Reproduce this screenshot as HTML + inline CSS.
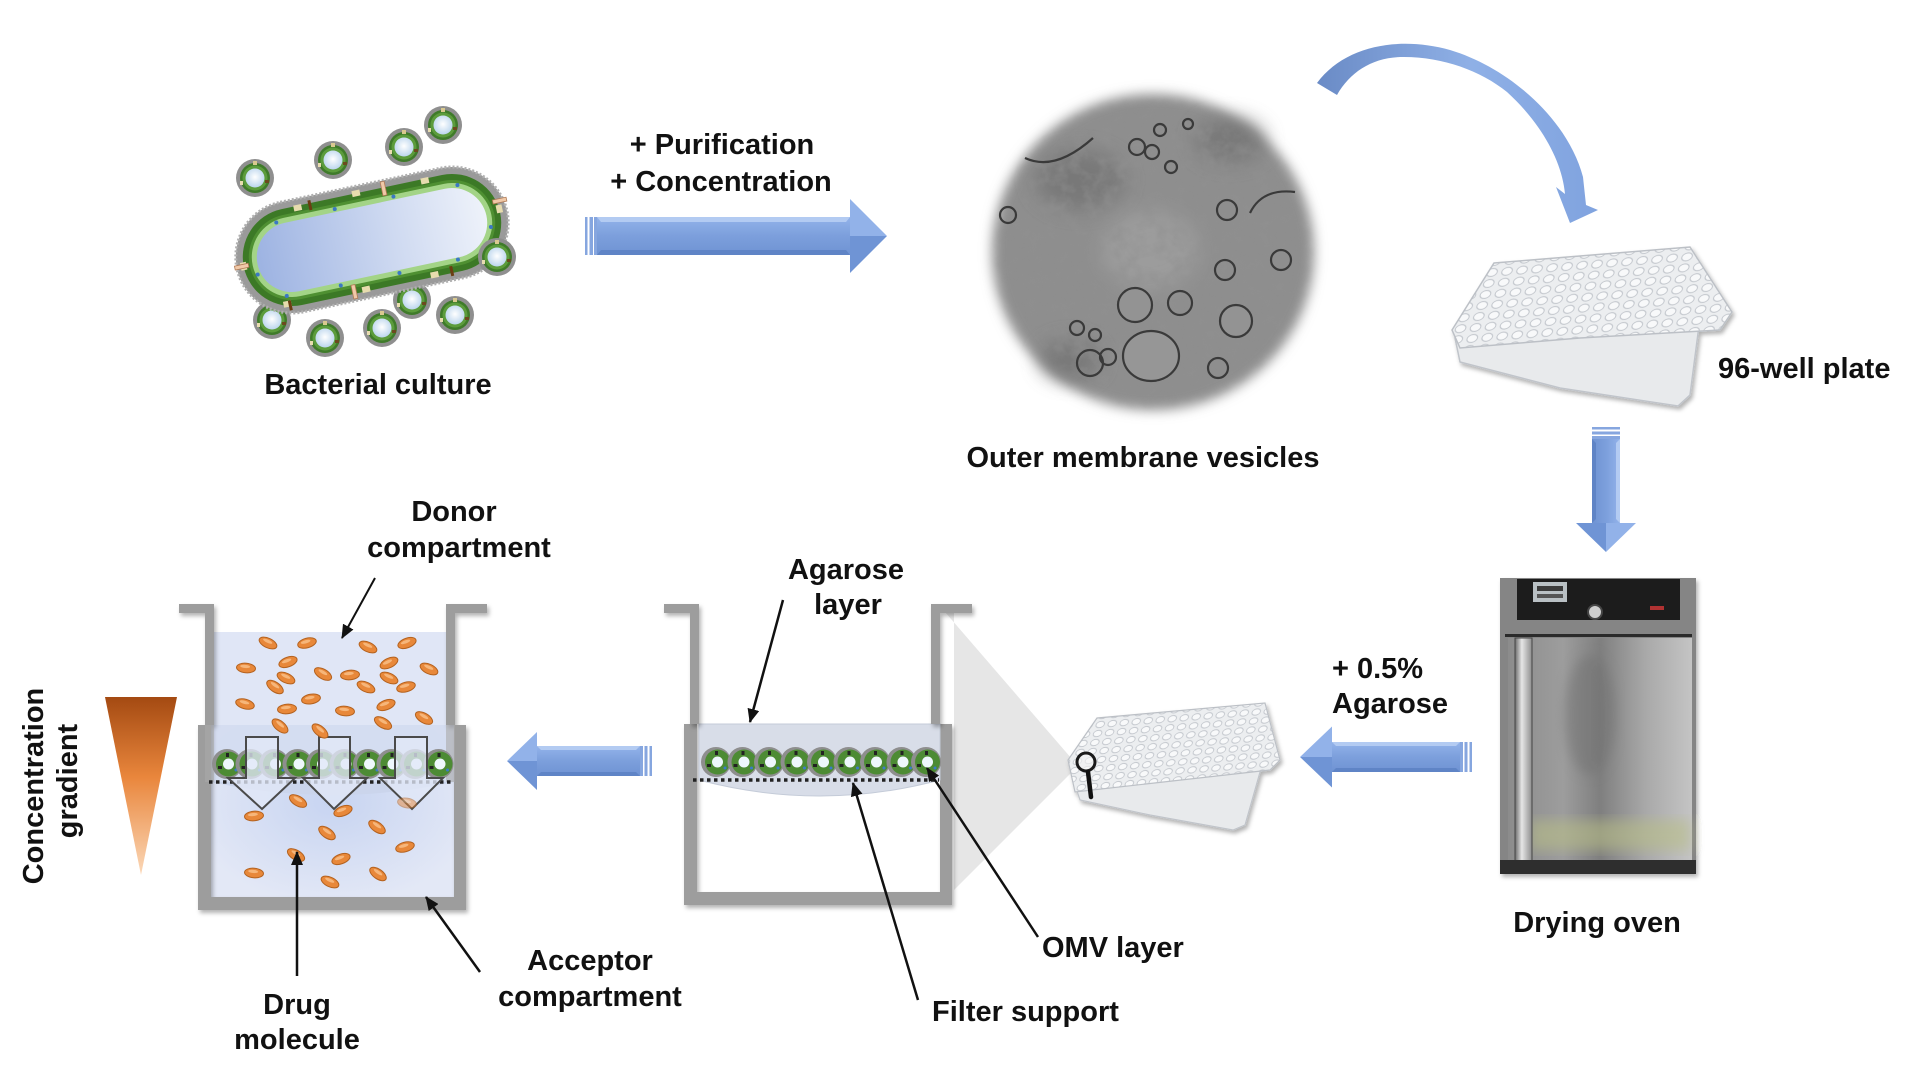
<!DOCTYPE html>
<html><head><meta charset="utf-8"><style>
html,body{margin:0;padding:0;background:#fff;}
svg{display:block;}
text{font-family:"Liberation Sans",Arial,sans-serif;font-weight:bold;font-size:29px;fill:#111;}
</style></head><body>
<svg width="1920" height="1070" viewBox="0 0 1920 1070" xmlns="http://www.w3.org/2000/svg">
<defs>
  <linearGradient id="armB" x1="0" y1="0" x2="0" y2="1">
    <stop offset="0" stop-color="#93b3ea"/><stop offset="0.5" stop-color="#7c9fdc"/><stop offset="1" stop-color="#6f93d3"/>
  </linearGradient>
  <linearGradient id="curv" x1="0" y1="0" x2="1" y2="0">
    <stop offset="0" stop-color="#6a8bc6"/><stop offset="0.55" stop-color="#8fb0e6"/><stop offset="1" stop-color="#80a3df"/>
  </linearGradient>
  <linearGradient id="bactIn" x1="0" y1="0" x2="1" y2="0">
    <stop offset="0" stop-color="#9db3e2"/><stop offset="0.6" stop-color="#cfdaf1"/><stop offset="1" stop-color="#eef2fa"/>
  </linearGradient>
  <radialGradient id="vesIn" cx="0.5" cy="0.45" r="0.6">
    <stop offset="0" stop-color="#ffffff"/><stop offset="1" stop-color="#b6d2ec"/>
  </radialGradient>
  <linearGradient id="tri" x1="0" y1="0" x2="0" y2="1">
    <stop offset="0" stop-color="#a44a12"/><stop offset="0.45" stop-color="#e9863c"/><stop offset="1" stop-color="#fbd8b8"/>
  </linearGradient>
  <radialGradient id="acc" cx="0.5" cy="0.45" r="0.6">
    <stop offset="0" stop-color="#c7d4f1"/><stop offset="1" stop-color="#e3e8f6"/>
  </radialGradient>
  <linearGradient id="door" x1="0" y1="0" x2="1" y2="0">
    <stop offset="0" stop-color="#8c8c8c"/><stop offset="0.3" stop-color="#9d9d9d"/><stop offset="0.5" stop-color="#7f7f7f"/><stop offset="0.75" stop-color="#a9a9a9"/><stop offset="1" stop-color="#c4c4c4"/>
  </linearGradient>
  <linearGradient id="handle" x1="0" y1="0" x2="1" y2="0">
    <stop offset="0" stop-color="#6b6b6b"/><stop offset="0.4" stop-color="#e6e6e6"/><stop offset="1" stop-color="#8d8d8d"/>
  </linearGradient>
  <radialGradient id="fadeG" cx="0.5" cy="0.5" r="0.5">
    <stop offset="0" stop-color="#fff"/><stop offset="0.85" stop-color="#fff"/><stop offset="1" stop-color="#000"/>
  </radialGradient>
  <mask id="omvMask" maskUnits="userSpaceOnUse" x="980" y="80" width="350" height="345">
    <ellipse cx="1153" cy="252" rx="162" ry="159" fill="url(#fadeG)"/>
  </mask>
  <filter id="tex" x="0" y="0" width="100%" height="100%">
    <feTurbulence type="fractalNoise" baseFrequency="0.07" numOctaves="3" seed="7"/>
    <feColorMatrix type="matrix" values="0 0 0 0 0.28  0 0 0 0 0.28  0 0 0 0 0.28  1.4 0 0 0 -0.55"/>
  </filter>
  <filter id="blur6" x="-20%" y="-20%" width="140%" height="140%"><feGaussianBlur stdDeviation="6"/></filter>
  <filter id="blur10" x="-50%" y="-50%" width="200%" height="200%"><feGaussianBlur stdDeviation="10"/></filter>
  <filter id="shd" x="-10%" y="-10%" width="130%" height="130%"><feDropShadow dx="2" dy="3" stdDeviation="2" flood-color="#000" flood-opacity="0.3"/></filter>
  <pattern id="wellsA" width="15" height="11" patternUnits="userSpaceOnUse" patternTransform="matrix(1,-0.08,-0.3,1,0,0)">
    <rect width="15" height="11" fill="#eceef0"/><ellipse cx="7.5" cy="5.5" rx="5.2" ry="4" fill="#f8f9fa" stroke="#c3c7cd" stroke-width="1"/>
  </pattern>
  <pattern id="wellsB" width="12" height="9" patternUnits="userSpaceOnUse" patternTransform="matrix(1,-0.08,-0.3,1,0,0)">
    <rect width="12" height="9" fill="#eceef0"/><ellipse cx="6" cy="4.5" rx="4.2" ry="3.2" fill="#f8f9fa" stroke="#c3c7cd" stroke-width="0.9"/>
  </pattern>
  <marker id="ah" markerWidth="14" markerHeight="12" refX="13" refY="6" orient="auto" markerUnits="userSpaceOnUse">
    <path d="M0,0 L14,6 L0,12 Z" fill="#111"/>
  </marker>
  <g id="ves">
    <circle r="19" fill="#8f8f8f"/>
    <circle r="15" fill="#3f7b2a"/>
    <circle r="12.5" fill="#5c9c3c"/>
    <circle r="9.5" fill="url(#vesIn)"/>
    <rect x="-2" y="-17" width="4" height="4" fill="#d9c98f"/>
    <rect x="10" y="2" width="4" height="3" fill="#6b4a1e"/>
    <rect x="-15" y="3" width="3" height="4" fill="#e8dcb0"/>
  </g>
  <g id="ov">
    <circle r="15" fill="#8e8e8e"/>
    <circle cx="1.5" r="12.5" fill="#4d8b34"/>
    <circle cx="1.5" r="5.5" fill="#eef7fc"/>
    <rect x="-1" y="-11" width="3" height="4" fill="#222"/>
    <rect x="-9" y="2" width="4" height="3" fill="#222"/>
    <circle cx="9" cy="6" r="1.5" fill="#3a7bc8"/>
  </g>
  <g id="drug">
    <ellipse rx="9.5" ry="4.8" fill="#e8883a" stroke="#b4621f" stroke-width="1"/>
    <ellipse cx="-1" cy="-1.5" rx="5" ry="1.6" fill="#f6b67a"/>
  </g>
</defs>
<rect width="1920" height="1070" fill="#fff"/>

<!-- ===== Bacterium ===== -->
<use href="#ves" x="272" y="320"/>
<use href="#ves" x="412" y="300"/>
<g transform="translate(372,240) rotate(-12)">
  <rect x="-138" y="-56" width="276" height="112" rx="56" fill="#9a9a9a" stroke="#b0b0b0" stroke-width="3" stroke-dasharray="2 2"/>
  <rect x="-131" y="-49" width="262" height="98" rx="49" fill="#3c7926"/>
  <rect x="-125" y="-43" width="250" height="86" rx="43" fill="#4f9032"/>
  <rect x="-122" y="-40" width="244" height="80" rx="40" fill="#a3d487"/>
  <rect x="-117" y="-35" width="234" height="70" rx="35" fill="url(#bactIn)"/>
  <g fill="#e7dcae">
    <rect x="-70" y="-50" width="8" height="6"/><rect x="-10" y="-52" width="8" height="6"/><rect x="60" y="-50" width="8" height="6"/>
    <rect x="-100" y="42" width="8" height="6"/><rect x="-20" y="44" width="8" height="6"/><rect x="50" y="44" width="8" height="6"/>
    <rect x="-134" y="-5" width="6" height="8"/><rect x="128" y="-8" width="6" height="8"/>
  </g>
  <g fill="#3b78c4">
    <circle cx="-90" cy="-37" r="2"/><circle cx="-30" cy="-38" r="2"/><circle cx="30" cy="-38" r="2"/><circle cx="95" cy="-36" r="2"/>
    <circle cx="-95" cy="37" r="2"/><circle cx="-40" cy="38" r="2"/><circle cx="20" cy="38" r="2"/><circle cx="80" cy="37" r="2"/>
    <circle cx="-119" cy="10" r="2"/><circle cx="119" cy="12" r="2"/>
  </g>
  <g fill="#f0c9a8" stroke="#b07a55" stroke-width="0.8">
    <rect x="20" y="-55" width="4" height="14"/><rect x="-30" y="40" width="4" height="14"/>
    <rect x="-140" y="-3" width="14" height="4"/><rect x="126" y="-14" width="14" height="4"/>
  </g>
  <g fill="#6b3d12"><rect x="-55" y="-52" width="3" height="10"/><rect x="70" y="42" width="3" height="10"/><rect x="-95" y="42" width="3" height="10"/></g>
</g>
<use href="#ves" x="255" y="178"/>
<use href="#ves" x="333" y="160"/>
<use href="#ves" x="404" y="147"/>
<use href="#ves" x="443" y="125"/>
<use href="#ves" x="497" y="257"/>
<use href="#ves" x="325" y="338"/>
<use href="#ves" x="382" y="328"/>
<use href="#ves" x="455" y="315"/>
<text x="378" y="394" text-anchor="middle">Bacterial culture</text>

<!-- ===== Top arrow ===== -->
<text x="722" y="154" text-anchor="middle">+ Purification</text>
<text x="721" y="191" text-anchor="middle">+ Concentration</text>
<g transform="translate(585,236)">
  <rect x="0" y="-19" width="2.5" height="38" fill="#86a6df"/><rect x="4.5" y="-19" width="3.5" height="38" fill="#86a6df"/><rect x="9" y="-19" width="3" height="38" fill="#86a6df"/>
  <rect x="12" y="-19" width="253" height="38" fill="url(#armB)"/>
  <polygon points="12,-19 265,-19 261,-14 16,-14" fill="#b3cbf2"/>
  <polygon points="12,19 265,19 261,14 16,14" fill="#5f84c6"/>
  <polygon points="265,-37 302,0 265,0" fill="#92b2e9"/>
  <polygon points="265,0 302,0 265,37" fill="#6f94d5"/>
</g>

<!-- ===== OMV micrograph ===== -->
<ellipse cx="1153" cy="252" rx="161" ry="158" fill="#8e8e8e" filter="url(#blur6)"/>
<g filter="url(#blur10)" fill="#6f6f6f" opacity="0.7">
  <ellipse cx="1080" cy="180" rx="45" ry="30"/>
  <ellipse cx="1230" cy="140" rx="35" ry="22"/>
  <ellipse cx="1070" cy="360" rx="30" ry="20"/>
</g>
<g filter="url(#blur10)" fill="#a2a2a2" opacity="0.7">
  <ellipse cx="1150" cy="250" rx="50" ry="40"/>
</g>
<g mask="url(#omvMask)">
  <rect x="985" y="88" width="340" height="330" filter="url(#tex)"/>
</g>
<g fill="none" stroke="#3a3a3a" stroke-width="2.2">
  <ellipse cx="1151" cy="356" rx="28" ry="25" fill="#969696"/>
  <circle cx="1135" cy="305" r="17" fill="#939393"/>
  <circle cx="1236" cy="321" r="16" fill="#939393"/>
  <circle cx="1180" cy="303" r="12"/>
  <circle cx="1227" cy="210" r="10"/>
  <circle cx="1281" cy="260" r="10"/>
  <circle cx="1090" cy="363" r="13"/>
  <circle cx="1218" cy="368" r="10"/>
  <circle cx="1137" cy="147" r="8"/>
  <circle cx="1152" cy="152" r="7"/>
  <circle cx="1171" cy="167" r="6"/>
  <circle cx="1008" cy="215" r="8"/>
  <circle cx="1077" cy="328" r="7"/>
  <circle cx="1095" cy="335" r="6"/>
  <circle cx="1108" cy="357" r="8"/>
  <circle cx="1225" cy="270" r="10"/>
  <circle cx="1160" cy="130" r="6"/>
  <circle cx="1188" cy="124" r="5"/>
  <path d="M1025,158 Q1055,172 1093,138"/>
  <path d="M1250,213 Q1262,188 1295,192"/>
</g>
<text x="1143" y="467" text-anchor="middle">Outer membrane vesicles</text>

<!-- ===== Curved arrow ===== -->
<path d="M1317,83 C1345,45 1400,36 1450,50 C1510,68 1568,120 1583,177 L1586,205 L1598,210 L1570,223 L1556,187 L1565,194 C1562,160 1540,122 1507,92 C1480,70 1440,56 1400,57 C1372,58 1350,72 1337,95 Z" fill="url(#curv)"/>

<!-- ===== Top 96-well plate ===== -->
<g filter="url(#shd)">
  <polygon points="1455,338 1700,318 1690,395 1678,406 1560,388 1460,362" fill="#e8eaec" stroke="#c0c4ca" stroke-width="1.5"/>
  <polygon points="1494,263 1690,247 1732,312 1720,330 1580,338 1460,348 1452,330" fill="url(#wellsA)" stroke="#bcc0c6" stroke-width="1.5"/>
</g>
<text x="1718" y="378">96-well plate</text>

<!-- ===== Down arrow ===== -->
<g transform="translate(1606,427) rotate(90)">
  <rect x="0" y="-14" width="2.5" height="28" fill="#86a6df"/><rect x="4.5" y="-14" width="3" height="28" fill="#86a6df"/><rect x="9" y="-14" width="3" height="28" fill="#86a6df"/>
  <rect x="12" y="-14" width="84" height="28" fill="url(#armB)"/>
  <polygon points="12,-14 96,-14 92,-10 16,-10" fill="#b3cbf2"/>
  <polygon points="12,14 96,14 92,10 16,10" fill="#5f84c6"/>
  <polygon points="96,-30 125,0 96,0" fill="#92b2e9"/>
  <polygon points="96,0 125,0 96,30" fill="#6f94d5"/>
</g>

<!-- ===== Oven ===== -->
<g filter="url(#shd)">
  <rect x="1500" y="578" width="196" height="296" fill="#858585"/>
  <rect x="1517" y="579" width="163" height="41" fill="#1b1b1b"/>
  <rect x="1533" y="582" width="34" height="20" fill="#b9c0c4"/>
  <rect x="1537" y="586" width="26" height="5" fill="#3a3a3a"/>
  <rect x="1537" y="594" width="26" height="4" fill="#555"/>
  <rect x="1650" y="606" width="14" height="4" fill="#b03030"/>
  <circle cx="1595" cy="612" r="7" fill="#cfcfcf" stroke="#444" stroke-width="2"/>
  <rect x="1505" y="634" width="187" height="3" fill="#2a2a2a"/>
  <rect x="1508" y="638" width="184" height="222" fill="url(#door)"/>
  <ellipse cx="1590" cy="715" rx="25" ry="60" fill="#6f6f6f" opacity="0.5" filter="url(#blur6)"/>
  <rect x="1530" y="820" width="160" height="30" fill="#b9bf86" opacity="0.55" filter="url(#blur6)"/>
  <rect x="1515" y="638" width="17" height="225" fill="url(#handle)" stroke="#444" stroke-width="1"/>
  <rect x="1500" y="860" width="196" height="14" fill="#2e2e2e"/>
</g>
<text x="1597" y="932" text-anchor="middle">Drying oven</text>

<!-- ===== Right bottom arrow ===== -->
<text x="1332" y="678">+ 0.5%</text>
<text x="1332" y="713">Agarose</text>
<g transform="translate(1472,757) scale(-1,1)">
  <rect x="0" y="-15" width="2.5" height="30" fill="#86a6df"/><rect x="4.5" y="-15" width="3" height="30" fill="#86a6df"/><rect x="9" y="-15" width="3" height="30" fill="#86a6df"/>
  <rect x="12" y="-15" width="128" height="30" fill="url(#armB)"/>
  <polygon points="12,-15 140,-15 136,-11 16,-11" fill="#b3cbf2"/>
  <polygon points="12,15 140,15 136,11 16,11" fill="#5f84c6"/>
  <polygon points="140,-30.5 172,0 140,0" fill="#92b2e9"/>
  <polygon points="140,0 172,0 140,30.5" fill="#6f94d5"/>
</g>

<!-- ===== Zoom cone + small plate ===== -->
<polygon points="945,612 1078,766 954,890 954,612" fill="#e6e6e6"/>
<g filter="url(#shd)">
  <polygon points="1075,785 1262,765 1245,825 1233,830 1150,815 1080,800" fill="#e8eaec" stroke="#c0c4ca" stroke-width="1.2"/>
  <polygon points="1097,718 1265,703 1280,760 1270,770 1075,792 1068,760" fill="url(#wellsB)" stroke="#bcc0c6" stroke-width="1.2"/>
</g>
<circle cx="1086" cy="762" r="9" fill="#f4f4f4" fill-opacity="0.6" stroke="#1a1a1a" stroke-width="3"/>
<line x1="1088" y1="772" x2="1091" y2="797" stroke="#111" stroke-width="4.5" stroke-linecap="round"/>

<!-- ===== Middle box ===== -->
<g filter="url(#shd)">
  <path d="M684,724 H697 V892 H940 V724 H952 V905 H684 Z" fill="#9d9d9d"/>
</g>
<path d="M699,724 H940 V780 Q820,812 699,780 Z" fill="#d8dde8" stroke="#c4cbd8" stroke-width="1"/>
<g filter="url(#shd)">
  <path d="M664,604 H699 V724 H690 V613 H664 Z" fill="#9d9d9d"/>
  <path d="M931,604 H972 V613 H940 V724 H931 Z" fill="#9d9d9d"/>
</g>
<use href="#ov" x="716" y="762"/><use href="#ov" x="742.5" y="762"/><use href="#ov" x="769" y="762"/>
<use href="#ov" x="795.5" y="762"/><use href="#ov" x="822" y="762"/><use href="#ov" x="848.5" y="762"/>
<use href="#ov" x="875" y="762"/><use href="#ov" x="901.5" y="762"/><use href="#ov" x="926" y="762"/>
<line x1="693" y1="780" x2="939" y2="780" stroke="#222" stroke-width="3.5" stroke-dasharray="3.5 3.5"/>
<text x="846" y="579" text-anchor="middle">Agarose</text>
<text x="848" y="614" text-anchor="middle">layer</text>
<line x1="783" y1="600" x2="750" y2="722" stroke="#111" stroke-width="2.5" marker-end="url(#ah)"/>
<line x1="918" y1="1000" x2="853" y2="783" stroke="#111" stroke-width="2.5" marker-end="url(#ah)"/>
<line x1="1038" y1="937" x2="927" y2="768" stroke="#111" stroke-width="2.5" marker-end="url(#ah)"/>
<text x="1042" y="957">OMV layer</text>
<text x="932" y="1021">Filter support</text>

<!-- ===== Middle left arrow ===== -->
<g transform="translate(652,761) scale(-1,1)">
  <rect x="0" y="-15" width="2.5" height="30" fill="#86a6df"/><rect x="4.5" y="-15" width="3" height="30" fill="#86a6df"/><rect x="9" y="-15" width="3" height="30" fill="#86a6df"/>
  <rect x="12" y="-15" width="103" height="30" fill="url(#armB)"/>
  <polygon points="12,-15 115,-15 111,-11 16,-11" fill="#b3cbf2"/>
  <polygon points="12,15 115,15 111,11 16,11" fill="#5f84c6"/>
  <polygon points="115,-29 145,0 115,0" fill="#92b2e9"/>
  <polygon points="115,0 145,0 115,29" fill="#6f94d5"/>
</g>

<!-- ===== Left box ===== -->
<polygon points="105,697 177,697 141,875" fill="url(#tri)"/>
<text transform="translate(43,786) rotate(-90)" text-anchor="middle">Concentration</text>
<text transform="translate(77,781) rotate(-90)" text-anchor="middle">gradient</text>

<rect x="211" y="725" width="243" height="172" fill="url(#acc)"/>
<rect x="214" y="632" width="232" height="150" fill="#dde3f5" opacity="0.9"/>
<rect x="211" y="725" width="243" height="57" fill="#c9d4ee" opacity="0.45"/>
<path d="M211,782 Q332,808 454,782 Z" fill="#cbd5ec"/>
<g filter="url(#shd)">
  <path d="M198,725 H211 V897 H454 V725 H466 V910 H198 Z" fill="#9d9d9d"/>
  <path d="M179,604 H214 V725 H205 V613 H179 Z" fill="#9d9d9d"/>
  <path d="M446,604 H487 V613 H455 V725 H446 Z" fill="#9d9d9d"/>
</g>
<rect x="205" y="725" width="9" height="57" fill="#a9a9a9" opacity="0.6"/>
<rect x="446" y="725" width="9" height="57" fill="#a9a9a9" opacity="0.6"/>
<use href="#ov" x="227" y="764"/><use href="#ov" x="250.5" y="764"/><use href="#ov" x="274" y="764"/>
<use href="#ov" x="297.5" y="764"/><use href="#ov" x="321" y="764"/><use href="#ov" x="344.5" y="764"/>
<use href="#ov" x="368" y="764"/><use href="#ov" x="391.5" y="764"/><use href="#ov" x="415" y="764"/>
<use href="#ov" x="438.5" y="764"/>
<line x1="209" y1="782" x2="454" y2="782" stroke="#222" stroke-width="3.5" stroke-dasharray="3.5 3.5"/>
<g fill="#e2e8f7" fill-opacity="0.78" stroke="#4a4a4a" stroke-width="2" stroke-linejoin="miter">
  <polygon points="246,737 278,737 278,778 295,778 262,809 228,778 246,778"/>
  <polygon points="319,737 350,737 350,778 367,778 334,809 303,778 319,778"/>
  <polygon points="395,737 427,737 427,778 443,778 412,809 380,778 395,778"/>
</g>
<!-- drug molecules -->
<use href="#drug" transform="translate(268,643) rotate(25)"/>
<use href="#drug" transform="translate(307,643) rotate(-15)"/>
<use href="#drug" transform="translate(368,647) rotate(25)"/>
<use href="#drug" transform="translate(407,643) rotate(-20)"/>
<use href="#drug" transform="translate(246,668) rotate(5)"/>
<use href="#drug" transform="translate(288,662) rotate(-20)"/>
<use href="#drug" transform="translate(323,674) rotate(30)"/>
<use href="#drug" transform="translate(350,675) rotate(-5)"/>
<use href="#drug" transform="translate(389,663) rotate(-25)"/>
<use href="#drug" transform="translate(429,669) rotate(25)"/>
<use href="#drug" transform="translate(275,687) rotate(35)"/>
<use href="#drug" transform="translate(286,678) rotate(25)"/>
<use href="#drug" transform="translate(389,678) rotate(25)"/>
<use href="#drug" transform="translate(406,687) rotate(-15)"/>
<use href="#drug" transform="translate(366,687) rotate(25)"/>
<use href="#drug" transform="translate(245,704) rotate(15)"/>
<use href="#drug" transform="translate(287,709) rotate(-5)"/>
<use href="#drug" transform="translate(311,699) rotate(-10)"/>
<use href="#drug" transform="translate(345,711) rotate(5)"/>
<use href="#drug" transform="translate(386,705) rotate(-20)"/>
<use href="#drug" transform="translate(424,718) rotate(30)"/>
<use href="#drug" transform="translate(280,726) rotate(40)"/>
<use href="#drug" transform="translate(320,731) rotate(40)"/>
<use href="#drug" transform="translate(383,723) rotate(30)"/>
<use href="#drug" transform="translate(254,816) rotate(-5)"/>
<use href="#drug" transform="translate(298,801) rotate(30)"/>
<use href="#drug" transform="translate(343,811) rotate(-20)"/>
<use href="#drug" transform="translate(407,803) rotate(10)" opacity="0.5"/>
<use href="#drug" transform="translate(327,833) rotate(35)"/>
<use href="#drug" transform="translate(377,827) rotate(35)"/>
<use href="#drug" transform="translate(405,847) rotate(-15)"/>
<use href="#drug" transform="translate(296,855) rotate(30)"/>
<use href="#drug" transform="translate(341,859) rotate(-20)"/>
<use href="#drug" transform="translate(254,873) rotate(5)"/>
<use href="#drug" transform="translate(330,882) rotate(25)"/>
<use href="#drug" transform="translate(378,874) rotate(35)"/>

<text x="454" y="521" text-anchor="middle">Donor</text>
<text x="459" y="557" text-anchor="middle">compartment</text>
<line x1="375" y1="578" x2="342" y2="638" stroke="#111" stroke-width="2" marker-end="url(#ah)"/>
<line x1="297" y1="976" x2="297" y2="852" stroke="#111" stroke-width="2.5" marker-end="url(#ah)"/>
<line x1="480" y1="972" x2="426" y2="897" stroke="#111" stroke-width="2.5" marker-end="url(#ah)"/>
<text x="297" y="1014" text-anchor="middle">Drug</text>
<text x="297" y="1049" text-anchor="middle">molecule</text>
<text x="590" y="970" text-anchor="middle">Acceptor</text>
<text x="590" y="1006" text-anchor="middle">compartment</text>
</svg>
</body></html>
